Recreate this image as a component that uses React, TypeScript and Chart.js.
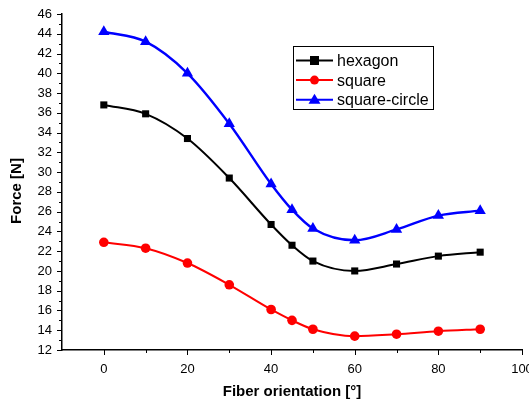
import React, { useEffect, useRef } from "react";
import { Chart, registerables } from "chart.js";

Chart.register(...registerables);

const angles = [0, 10, 20, 30, 40, 45, 50, 60, 70, 80, 90];
const hexagon = [36.8, 35.9, 33.4, 29.4, 24.7, 22.6, 21.0, 20.0, 20.7, 21.5, 21.9];
const square = [22.9, 22.3, 20.8, 18.6, 16.1, 15.0, 14.1, 13.4, 13.6, 13.9, 14.1];
const squareCircle = [44.2, 43.2, 40.0, 34.9, 28.8, 26.2, 24.3, 23.1, 24.2, 25.6, 26.1];
const seriesNames = ["hexagon", "square", "square-circle"];
const seriesColors = ["#000000", "#ff0000", "#0000ff"];
const seriesStyles = ["rect", "circle", "triangle"];
const xTitle = "Fiber orientation [°]";
const yTitle = "Force [N]";

const FONT = "Arial, 'Liberation Sans', sans-serif";

const ticksPlugin = {
  id: "customTicks",
  afterDraw(chart: any) {
    const ctx = chart.ctx;
    const xs = chart.scales.x;
    const ys = chart.scales.y;
    const area = chart.chartArea;
    ctx.save();
    ctx.strokeStyle = "#000";
    ctx.lineWidth = 1;
    for (let v = 12; v <= 46; v += 1) {
      const py = Math.round(ys.getPixelForValue(v)) + 0.5;
      const len = v % 2 === 0 ? 5 : 3;
      ctx.beginPath();
      ctx.moveTo(area.left, py);
      ctx.lineTo(area.left - len, py);
      ctx.stroke();
    }
    for (let v = 0; v <= 100; v += 10) {
      const px = Math.round(xs.getPixelForValue(v)) + 0.5;
      const len = v % 20 === 0 ? 5 : 3;
      ctx.beginPath();
      ctx.moveTo(px, area.bottom);
      ctx.lineTo(px, area.bottom + len);
      ctx.stroke();
    }
    // axis titles
    ctx.fillStyle = "#000";
    ctx.font = `bold 15px ${FONT}`;
    ctx.textAlign = "center";
    ctx.textBaseline = "middle";
    ctx.fillText(xTitle, (area.left + area.right) / 2, 392);
    ctx.save();
    ctx.translate(17, 191);
    ctx.rotate(-Math.PI / 2);
    ctx.fillText(yTitle, 0, 0);
    ctx.restore();
    // legend
    const bx = 293, by = 46, bw = 140, bh = 63;
    ctx.lineWidth = 1;
    ctx.strokeStyle = "#000";
    ctx.strokeRect(bx + 0.5, by + 0.5, bw, bh);
    ctx.font = `16px ${FONT}`;
    ctx.textBaseline = "middle";
    for (let i = 0; i < 3; i++) {
      const ly = by + 14.5 + i * 19.6;
      ctx.strokeStyle = seriesColors[i];
      ctx.lineWidth = 2;
      ctx.beginPath();
      ctx.moveTo(bx + 3, ly);
      ctx.lineTo(bx + 40, ly);
      ctx.stroke();
      ctx.fillStyle = seriesColors[i];
      const cx = bx + 21.5;
      if (i === 0) {
        ctx.fillRect(cx - 4.5, ly - 4.5, 9, 9);
      } else if (i === 1) {
        ctx.beginPath();
        ctx.arc(cx, ly, 4.5, 0, Math.PI * 2);
        ctx.fill();
      } else {
        ctx.beginPath();
        ctx.moveTo(cx, ly - 6);
        ctx.lineTo(cx + 6, ly + 4);
        ctx.lineTo(cx - 6, ly + 4);
        ctx.closePath();
        ctx.fill();
      }
      ctx.fillStyle = "#000";
      ctx.textAlign = "left";
      ctx.fillText(seriesNames[i], bx + 44, ly + 1);
    }
    ctx.restore();
  },
};

export default function App() {
  const ref = useRef<HTMLCanvasElement | null>(null);
  useEffect(() => {
    if (!ref.current) return;
    const datasets = [hexagon, square, squareCircle].map((vals, i) => ({
      label: seriesNames[i],
      data: angles.map((a, j) => ({ x: a, y: vals[j] })),
      borderColor: seriesColors[i],
      backgroundColor: seriesColors[i],
      borderWidth: i === 2 ? 2.4 : 2,
      pointStyle: seriesStyles[i] as any,
      pointRadius: i === 0 ? 5 : i === 1 ? 4.8 : 6.5,
      pointBorderWidth: 0,
      cubicInterpolationMode: "monotone" as const,
      fill: false,
    }));
    const chart = new Chart(ref.current, {
      type: "line",
      data: { datasets },
      plugins: [ticksPlugin],
      options: {
        animation: false,
        responsive: false,
        maintainAspectRatio: false,
        layout: { padding: { left: 0, top: 14, right: 7, bottom: 0 } },
        plugins: { legend: { display: false }, tooltip: { enabled: false } },
        scales: {
          x: {
            type: "linear",
            min: -10,
            max: 100,
            grid: { display: false, drawTicks: false },
            border: { display: true, color: "#000", width: 1.5 },
            afterFit: (s: any) => {
              s.height = 53;
              s.paddingLeft = 0;
              s.paddingRight = 0;
            },
            ticks: {
              stepSize: 10,
              padding: 12,
              autoSkip: false,
              maxRotation: 0,
              color: "#000",
              font: { family: FONT, size: 13 },
              callback: (v: any) => (v >= 0 && v % 20 === 0 ? String(v) : ""),
            },
          },
          y: {
            type: "linear",
            min: 12,
            max: 46,
            grid: { display: false, drawTicks: false },
            border: { display: true, color: "#000", width: 1.5 },
            afterFit: (s: any) => {
              s.width = 62;
              s.paddingTop = 0;
              s.paddingBottom = 0;
            },
            ticks: {
              stepSize: 2,
              padding: 10,
              autoSkip: false,
              color: "#000",
              font: { family: FONT, size: 13 },
            },
          },
        },
      },
    });
    return () => chart.destroy();
  }, []);
  return (
    <div style={{ position: "fixed", left: 0, top: 0, width: 529, height: 403, background: "#fff" }}>
      <canvas ref={ref} width={529} height={403} style={{ width: 529, height: 403 }} />
    </div>
  );
}
